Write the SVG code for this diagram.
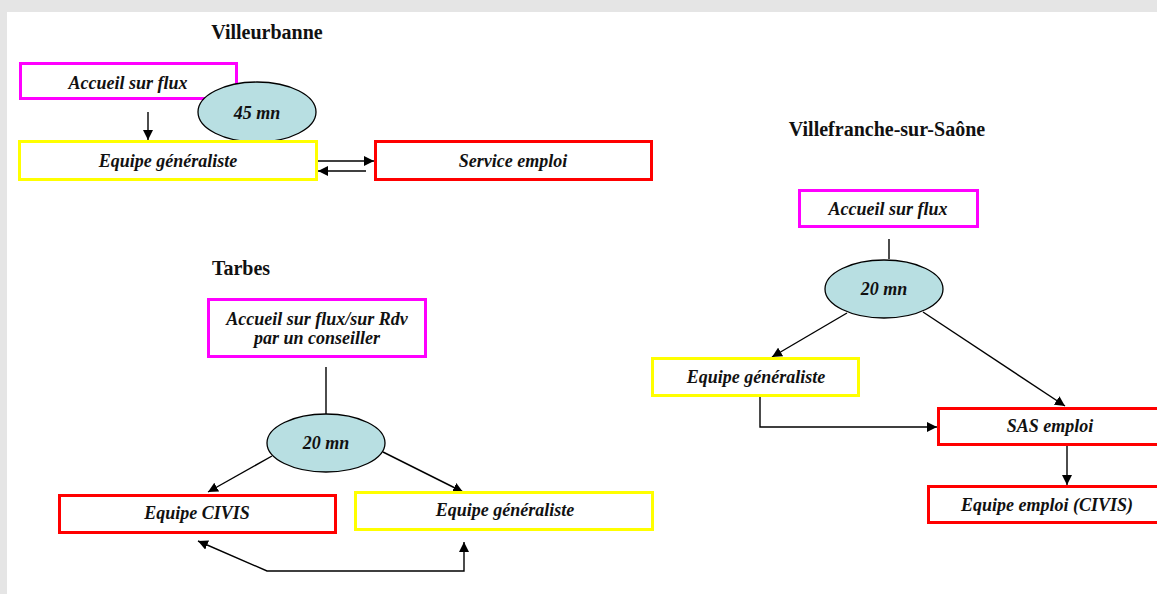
<svg xmlns="http://www.w3.org/2000/svg" width="1157" height="594" viewBox="0 0 1157 594">
  <style>
    .title { font-family: "Liberation Serif", "DejaVu Serif", serif; font-weight: bold; font-size: 20px; fill: #111; text-anchor: middle; }
    .lbl { font-family: "Liberation Serif", "DejaVu Serif", serif; font-weight: bold; font-style: italic; font-size: 18px; fill: #111; text-anchor: middle; }
    .box { fill: #fff; stroke-width: 3; }
    .mag { stroke: #ff00ff; }
    .yel { stroke: #ffff00; }
    .red { stroke: #ff0000; }
    .oval { fill: #b8dfe2; stroke: #000; stroke-width: 1.3; }
    .wire { fill: none; stroke: #000; stroke-width: 1.4; }
  </style>
  <defs>
    <marker id="arr" viewBox="0 0 10 10" refX="10" refY="5" markerWidth="10" markerHeight="10" markerUnits="userSpaceOnUse" orient="auto-start-reverse">
      <path d="M0,0 L10,5 L0,10 z" fill="#000"/>
    </marker>
  </defs>

  <!-- page -->
  <rect x="0" y="0" width="1157" height="594" fill="#e5e5e5"/>
  <rect x="7" y="12" width="1150" height="582" fill="#fff"/>

  <!-- section titles -->
  <text class="title" x="267" y="39">Villeurbanne</text>
  <text class="title" x="241" y="275">Tarbes</text>
  <text class="title" x="887" y="136">Villefranche-sur-Saône</text>

  <!-- connectors -->
  <g id="connectors">
    <line class="wire" x1="148" y1="112" x2="148" y2="140" marker-end="url(#arr)"/>
    <line class="wire" x1="316" y1="161" x2="374" y2="161" marker-end="url(#arr)"/>
    <line class="wire" x1="366" y1="171" x2="318" y2="171" marker-end="url(#arr)"/>

    <line class="wire" x1="326" y1="367" x2="326" y2="414"/>
    <line class="wire" x1="272" y1="456" x2="208" y2="492" marker-end="url(#arr)"/>
    <line class="wire" x1="383" y1="452" x2="463" y2="492" marker-end="url(#arr)"/>
    <polyline class="wire" points="198,541 267,571 464,571 464,542" marker-start="url(#arr)" marker-end="url(#arr)"/>

    <line class="wire" x1="889" y1="239" x2="889" y2="259"/>
    <line class="wire" x1="847" y1="313" x2="772" y2="357" marker-end="url(#arr)"/>
    <line class="wire" x1="923" y1="312" x2="1065" y2="406" marker-end="url(#arr)"/>
    <polyline class="wire" points="760,397 760,427 937,427" marker-end="url(#arr)"/>
    <line class="wire" x1="1067" y1="445" x2="1067" y2="485" marker-end="url(#arr)"/>
  </g>

  <!-- Villeurbanne -->
  <g id="v-accueil">
    <rect class="box mag" x="20.5" y="63.5" width="216" height="35"/>
    <text class="lbl" x="128" y="89">Accueil sur flux</text>
  </g>
  <g id="v-duree">
    <ellipse class="oval" cx="257" cy="112" rx="59" ry="30"/>
    <text class="lbl" x="257" y="119">45 mn</text>
  </g>
  <g id="v-generaliste">
    <rect class="box yel" x="19.5" y="141.5" width="297" height="38"/>
    <text class="lbl" x="168" y="167">Equipe généraliste</text>
  </g>
  <g id="v-emploi">
    <rect class="box red" x="375.5" y="141.5" width="276" height="38"/>
    <text class="lbl" x="513" y="167">Service emploi</text>
  </g>

  <!-- Tarbes -->
  <g id="t-accueil">
    <rect class="box mag" x="208.5" y="299.5" width="217" height="57"/>
    <text class="lbl" x="317" y="325">Accueil sur flux/sur Rdv</text>
    <text class="lbl" x="317" y="344">par un conseiller</text>
  </g>
  <g id="t-duree">
    <ellipse class="oval" cx="326" cy="443" rx="59" ry="29"/>
    <text class="lbl" x="326" y="449">20 mn</text>
  </g>
  <g id="t-civis">
    <rect class="box red" x="59.5" y="495.5" width="276" height="37"/>
    <text class="lbl" x="197" y="519">Equipe CIVIS</text>
  </g>
  <g id="t-generaliste">
    <rect class="box yel" x="355.5" y="492.5" width="297" height="37"/>
    <text class="lbl" x="505" y="516">Equipe généraliste</text>
  </g>

  <!-- Villefranche-sur-Saône -->
  <g id="vf-accueil">
    <rect class="box mag" x="799.5" y="190.5" width="178" height="36"/>
    <text class="lbl" x="888" y="215">Accueil sur flux</text>
  </g>
  <g id="vf-duree">
    <ellipse class="oval" cx="884" cy="289" rx="59" ry="29"/>
    <text class="lbl" x="884" y="295">20 mn</text>
  </g>
  <g id="vf-generaliste">
    <rect class="box yel" x="652.5" y="358.5" width="206" height="37"/>
    <text class="lbl" x="756" y="383">Equipe généraliste</text>
  </g>
  <g id="vf-sas">
    <rect class="box red" x="938.5" y="408.5" width="224" height="36"/>
    <text class="lbl" x="1050" y="432">SAS emploi</text>
  </g>
  <g id="vf-civis">
    <rect class="box red" x="928.5" y="486.5" width="236" height="36"/>
    <text class="lbl" x="1047" y="511">Equipe emploi (CIVIS)</text>
  </g>
</svg>
